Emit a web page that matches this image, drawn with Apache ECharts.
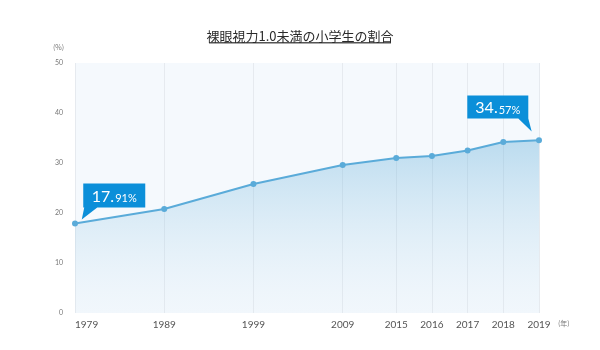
<!DOCTYPE html>
<html>
<head>
<meta charset="utf-8">
<script src="https://cdn.jsdelivr.net/npm/echarts@6/dist/echarts.min.js"></script>
<style>
  html, body { margin: 0; padding: 0; background: #ffffff; }
  #chart { width: 600px; height: 350px; }
</style>
</head>
<body>
<div id="chart"></div>
<script>
// Survey years and share of pupils (%) with naked-eye vision below 1.0
const years = [1979, 1989, 1999, 2009, 2015, 2016, 2017, 2018, 2019];
const rates = [17.91, 20.8, 25.8, 29.6, 31.0, 31.4, 32.5, 34.2, 34.57];
const yTicks = [0, 10, 20, 30, 40, 50];
const titleText = '裸眼視力1.0未満の小学生の割合';

// Broken time scale: decades are compressed (half a slot per year up to 2015),
// the yearly run from 2015 is stretched to two slots per year.
function slot(year) {
  return year <= 2015 ? (year - 1979) / 2 : 18 + (year - 2015) * 2;
}
const slotCount = slot(years[years.length - 1]) + 1;
const slotLabels = [];
for (let i = 0; i < slotCount; i++) slotLabels.push('');
years.forEach(y => { slotLabels[slot(y)] = String(y); });

const lineColor = '#5aabd9';
const calloutColor = '#0b8fd9';

function calloutText(v) {
  const parts = v.toFixed(2).split('.');
  return '{a|' + parts[0] + '.}{b|' + parts[1] + '%}';
}

const richStyle = {
  a: { fontSize: 16, fontFamily: 'Lato', color: '#fff', lineHeight: 18, verticalAlign: 'bottom' },
  b: { fontSize: 11, fontFamily: 'Lato', color: '#fff', lineHeight: 13, verticalAlign: 'bottom', padding: [0, 0, 0, 1] }
};

// Callout shapes: box with a pointer tail
const firstIdx = 0, lastIdx = years.length - 1;
const calloutLeft = 'path://M1.5 0 L63.5 0 L63.5 24 L15.5 24 L0 36 L2.5 24 L1.5 24 Z';
const calloutRight = 'path://M0 0 L61 0 L61 23 L64.4 36 L51 23 L0 23 Z';

const chart = echarts.init(document.getElementById('chart'), null, { renderer: 'canvas' });
chart.setOption({
  animation: false,
  backgroundColor: '#ffffff',
  textStyle: { fontFamily: 'Lato, "Noto Sans CJK JP", sans-serif' },
  title: {
    text: titleText,
    left: 'center',
    top: 25,
    textStyle: { fontSize: 13, fontWeight: 'normal', color: '#2a2a2a', fontFamily: '"Noto Sans CJK JP", sans-serif' }
  },
  graphic: [
    { type: 'rect', left: 'center', top: 42, shape: { width: 182, height: 1.6 }, style: { fill: '#555' } },
    { type: 'text', left: 53, top: 44, style: { text: '(%)', fontSize: 7, fill: '#777', fontFamily: '"Noto Sans CJK JP", sans-serif' } },
    { type: 'text', left: 558, top: 320, style: { text: '(年)', fontSize: 7, fill: '#777', fontFamily: '"Noto Sans CJK JP", sans-serif' } }
  ],
  grid: {
    left: 75, right: 61, top: 63, bottom: 37,
    show: true, backgroundColor: '#f5f9fd', borderWidth: 0
  },
  xAxis: {
    type: 'category',
    data: slotLabels,
    boundaryGap: false,
    axisLine: { show: false },
    axisTick: { show: false },
    axisLabel: {
      interval: (i, v) => v !== '',
      color: '#555', fontSize: 10, margin: 7,
      alignMinLabel: 'left'
    },
    splitLine: {
      show: true,
      interval: (i, v) => v !== '',
      lineStyle: { color: '#e6eaef', width: 1 }
    }
  },
  yAxis: {
    type: 'value',
    min: yTicks[0], max: yTicks[yTicks.length - 1], interval: 10,
    axisLine: { show: false },
    axisTick: { show: false },
    splitLine: { show: false },
    axisLabel: { color: '#777', fontSize: 7, margin: 12 }
  },
  series: [{
    type: 'line',
    data: years.map((y, i) => [slot(y), rates[i]]),
    symbol: 'circle',
    symbolSize: 6,
    lineStyle: { color: lineColor, width: 2 },
    itemStyle: { color: lineColor },
    areaStyle: {
      color: new echarts.graphic.LinearGradient(0, 0, 0, 1, [
        { offset: 0, color: 'rgba(94,172,216,0.55)' },
        { offset: 1, color: 'rgba(200,225,240,0.12)' }
      ])
    },
    markPoint: {
      silent: true,
      data: [
        {
          coord: [slot(years[firstIdx]), rates[firstIdx]],
          value: rates[firstIdx],
          symbol: calloutLeft,
          symbolSize: [63.5, 36],
          symbolOffset: [38.5, -22],
          itemStyle: { color: calloutColor },
          label: { show: true, formatter: calloutText(rates[firstIdx]), rich: richStyle, offset: [0.75, -6] }
        },
        {
          coord: [slot(years[lastIdx]), rates[lastIdx]],
          value: rates[lastIdx],
          symbol: calloutRight,
          symbolSize: [64.4, 36],
          symbolOffset: [-39.5, -26.7],
          itemStyle: { color: calloutColor },
          label: { show: true, formatter: calloutText(rates[lastIdx]), rich: richStyle, offset: [-1.7, -6.5] }
        }
      ]
    }
  }]
});
</script>
</body>
</html>
